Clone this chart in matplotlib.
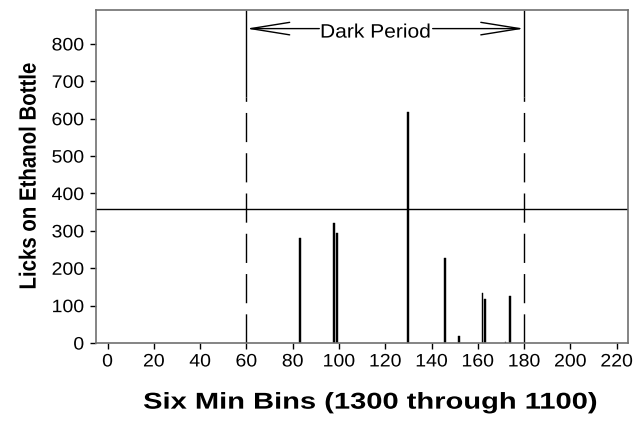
import matplotlib
matplotlib.use("Agg")
import matplotlib.pyplot as plt
from matplotlib.patheffects import AbstractPathEffect
from matplotlib.transforms import Affine2D

plt.rcParams['font.family'] = ['Liberation Sans', 'DejaVu Sans']

# Data
bins = [83, 98, 99, 130, 146, 152, 162, 163, 172, 174]
licks = [280, 320, 293, 617, 228, 18, 134, 118, 3, 126]
x_ticks = list(range(0, 221, 20))
y_ticks = list(range(0, 801, 100))
dark_start, dark_end = 60, 180
ref_level = 358
arrow_y = 841
xlabel = "Six Min Bins (1300 through 1100)"
ylabel = "Licks on Ethanol Bottle"
dark_label = "Dark Period"


class HStretch(AbstractPathEffect):
    """Widen drawn text horizontally about an anchor (0=left, .5=center, 1=right)."""
    def __init__(self, sx, anchor=0.5):
        super().__init__()
        self.sx = sx
        self.anchor = anchor

    def draw_path(self, renderer, gc, tpath, affine, rgbFace=None):
        ext = tpath.get_extents(affine)
        cx = ext.x0 + self.anchor * (ext.x1 - ext.x0)
        a = affine + Affine2D().translate(-cx, 0).scale(self.sx, 1).translate(cx, 0)
        renderer.draw_path(gc, tpath, a, rgbFace)


fig = plt.figure(figsize=(6.43, 4.23), dpi=100)
ax = fig.add_axes([0.1493, 0.189, 0.8277, 0.7867])

ax.bar(bins, licks, width=0.8, color='black', edgecolor='black', linewidth=0.3)

ax.set_xlim(-5, 225)
ax.set_ylim(0, 890)

ax.axhline(ref_level, color='black', lw=1)

split = 658
for xv in (dark_start, dark_end):
    ax.plot([xv, xv], [split, 890], color='black', lw=1, solid_capstyle='butt')
    ax.plot([xv, xv], [0, split], color='black', lw=1, linestyle=(0, (21, 8)))

# arrow in two halves around the label
gap_left, gap_right = 91.5, 140.5
head = dict(arrowstyle='->,head_length=2.8,head_width=0.45',
            color='black', lw=1, shrinkA=0, shrinkB=0)
ax.annotate('', xy=(dark_start, arrow_y), xytext=(gap_left, arrow_y), arrowprops=head)
ax.annotate('', xy=(dark_end, arrow_y), xytext=(gap_right, arrow_y), arrowprops=head)
ax.text(116, 829, dark_label, ha='center', va='center', fontsize=14,
        path_effects=[HStretch(1.08)])

ax.set_xticks(x_ticks)
ax.set_yticks(y_ticks)
ax.tick_params(direction='out', length=4.5, width=1, labelsize=13, colors='black')
ax.tick_params(axis='x', pad=3)
ax.tick_params(axis='y', pad=4)
for lab in ax.get_xticklabels():
    lab.set_path_effects([HStretch(1.08, 0.5)])
for lab in ax.get_yticklabels():
    lab.set_path_effects([HStretch(1.08, 1.0)])
for s in ax.spines.values():
    s.set_color('#707070')
    s.set_linewidth(1.2)

ax.set_xlabel(xlabel, fontsize=16.5, fontweight='bold',
              path_effects=[HStretch(1.27)])
ax.xaxis.set_label_coords(0.515, -0.143)
ax.set_ylabel(ylabel, fontsize=14.7, fontweight='bold',
              path_effects=[HStretch(1.15)])
ax.yaxis.set_label_coords(-0.108, 0.5)

fig.savefig('out.png', dpi=100)
